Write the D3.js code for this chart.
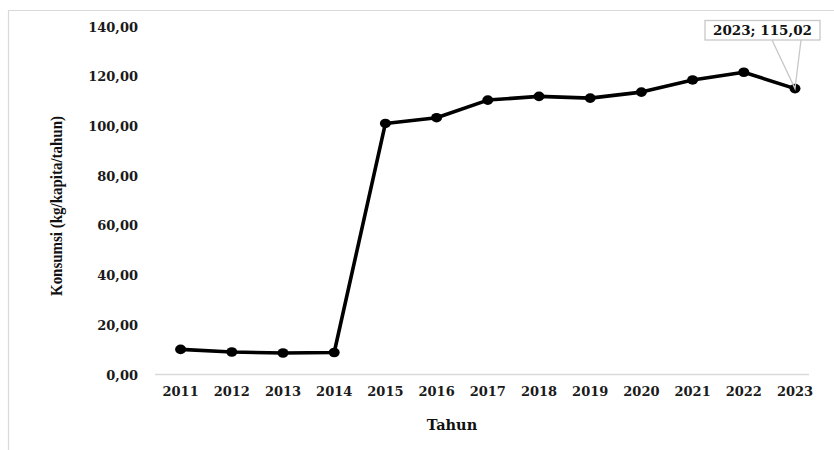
<!DOCTYPE html>
<html>
<head>
<meta charset="utf-8">
<script src="https://cdn.jsdelivr.net/npm/d3@7"></script>
<style>
  html, body { margin: 0; padding: 0; background: #fff; }
  svg { display: block; }
</style>
</head>
<body>
<svg id="chart" width="834" height="450"></svg>
<script>
// Per-capita consumption per year
const years = ["2011","2012","2013","2014","2015","2016","2017","2018","2019","2020","2021","2022","2023"];
const konsumsi = [10.1, 9.05, 8.65, 8.85, 101.0, 103.3, 110.4, 111.9, 111.2, 113.6, 118.5, 121.6, 115.02];
const yTicks = [0, 20, 40, 60, 80, 100, 120, 140];
const calloutYear = "2023";

const svg = d3.select("#chart");
const serif = "'DejaVu Serif', serif";

// chart frame (extends past the page edge on right/bottom)
svg.append("path")
  .attr("d", "M8.5,460 V10.5 H840")
  .attr("fill", "none").attr("stroke", "#d9d9d9").attr("stroke-width", 1.2);

const x = d3.scaleBand().domain(years).range([155, 820.6]).paddingInner(0).paddingOuter(0);
const y = d3.scaleLinear().domain([0, 140]).range([374.5, 26.5]);

// baseline
svg.append("line")
  .attr("x1", 155).attr("x2", 809)
  .attr("y1", y(0)).attr("y2", y(0))
  .attr("stroke", "#d9d9d9").attr("stroke-width", 1.5);

// y axis labels
const fmt = v => d3.format(".2f")(v).replace(".", ",");
const yAxis = d3.axisLeft(y).tickValues(yTicks).tickFormat(fmt).tickSize(0).tickPadding(0);
const gy = svg.append("g").attr("transform", "translate(138,0)").call(yAxis);
gy.select(".domain").remove();
gy.selectAll("text")
  .attr("font-family", serif).attr("font-weight", "bold").attr("font-size", 13)
  .attr("fill", "#1a1a1a").attr("dy", "0.35em");

// x axis labels
const xAxis = d3.axisBottom(x).tickSize(0).tickPadding(0);
const gx = svg.append("g").attr("transform", `translate(0,${y(0)})`).call(xAxis);
gx.select(".domain").remove();
gx.selectAll("text")
  .attr("font-family", serif).attr("font-weight", "bold").attr("font-size", 13)
  .attr("fill", "#1a1a1a").attr("dy", 0).attr("y", 21);

// axis titles
svg.append("text")
  .attr("x", 452).attr("y", 430)
  .attr("text-anchor", "middle")
  .attr("font-family", serif).attr("font-weight", "bold").attr("font-size", 14.5)
  .attr("fill", "#111").text("Tahun");

svg.append("text")
  .attr("transform", "translate(62,206) rotate(-90)")
  .attr("text-anchor", "middle")
  .attr("font-family", "'Liberation Serif', serif").attr("font-weight", "bold").attr("font-size", 17)
  .attr("fill", "#111")
  .attr("textLength", 180).attr("lengthAdjust", "spacingAndGlyphs")
  .text("Konsumsi (kg/kapita/tahun)");

// series
const pts = years.map((yr, i) => ({ yr, v: konsumsi[i] }));
const cx = d => x(d.yr) + x.bandwidth() / 2;
const line = d3.line().x(cx).y(d => y(d.v));

svg.append("path")
  .datum(pts)
  .attr("d", line)
  .attr("fill", "none").attr("stroke", "#000").attr("stroke-width", 3.6)
  .attr("stroke-linejoin", "round");

svg.selectAll("ellipse.pt")
  .data(pts).join("ellipse")
  .attr("class", "pt")
  .attr("cx", cx).attr("cy", d => y(d.v))
  .attr("rx", 5.5).attr("ry", 4.8)
  .attr("fill", "#000");

// callout for the last year
const c = pts.find(d => d.yr === calloutYear);
const px = cx(c), py = y(c.v);
const boxX = 705, boxY = 20.5, boxW = 115, boxH = 19.5;
svg.append("path")
  .attr("d", `M${boxX + 67},${boxY + boxH} L${px},${py} L${boxX + 96},${boxY + boxH}`)
  .attr("fill", "none").attr("stroke", "#c8c8c8").attr("stroke-width", 1.3);
svg.append("rect")
  .attr("x", boxX).attr("y", boxY).attr("width", boxW).attr("height", boxH)
  .attr("fill", "#fff").attr("stroke", "#c8c8c8").attr("stroke-width", 1.3);
svg.append("text")
  .attr("x", boxX + boxW / 2).attr("y", boxY + boxH / 2)
  .attr("dy", "0.36em").attr("text-anchor", "middle")
  .attr("font-family", serif).attr("font-weight", "bold").attr("font-size", 13.5)
  .attr("fill", "#111")
  .text(`${c.yr}; ${fmt(c.v)}`);
</script>
</body>
</html>
